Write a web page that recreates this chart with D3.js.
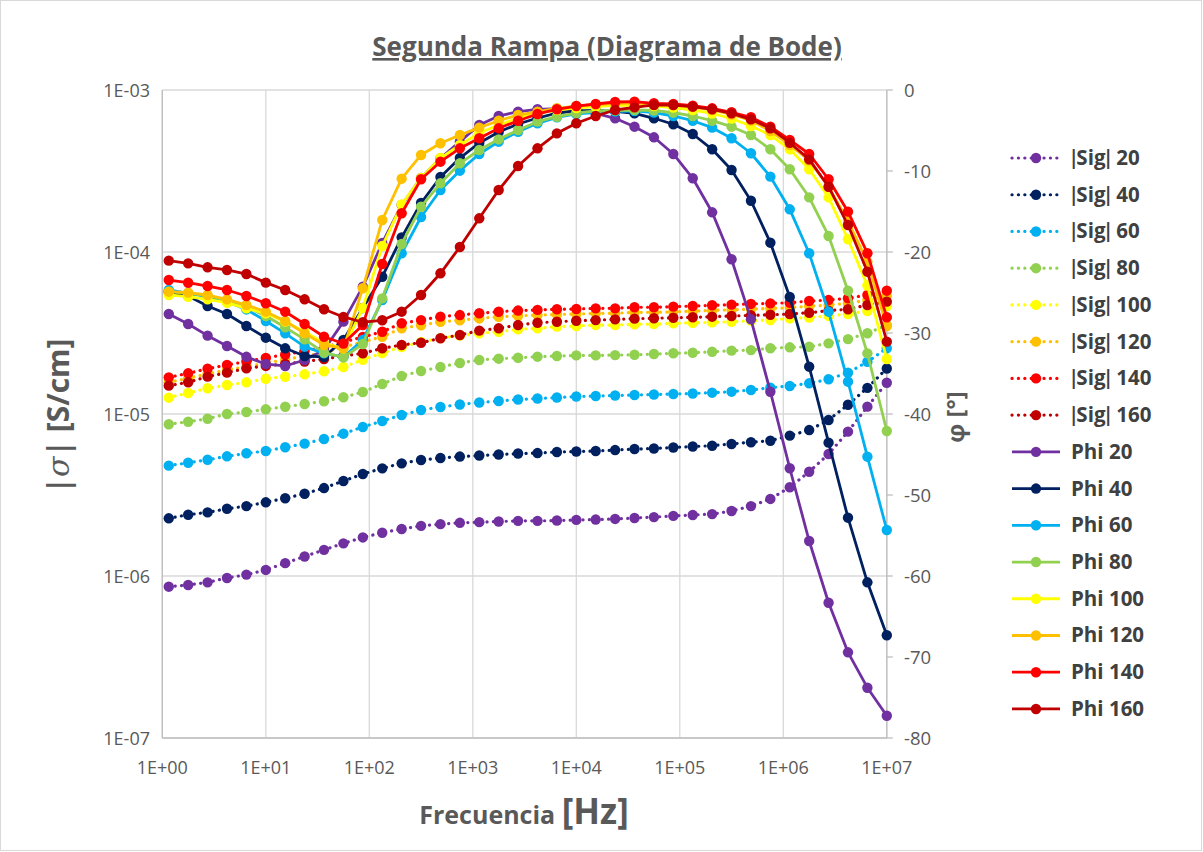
<!DOCTYPE html>
<html><head><meta charset="utf-8">
<script src="https://cdn.jsdelivr.net/npm/d3@7"></script>
<style>body{margin:0;background:#fff}svg{display:block}</style>
</head><body>
<svg id="c" width="1203" height="852"></svg>
<script>
const freq = [1.155, 1.778, 2.738, 4.217, 6.494, 10, 15.40, 23.71, 36.52, 56.23, 86.60, 133.4, 205.4, 316.2, 487.0, 749.9, 1155, 1778, 2738, 4217, 6494, 10000, 15399, 23714, 36517, 56234, 86596, 133352, 205353, 316228, 486968, 749894, 1154782, 1778279, 2738420, 4216965, 6493816, 10000000];

const sig20 = [8.59e-7,8.80e-7,9.14e-7,9.72e-7,1.02e-6,1.09e-6,1.20e-6,1.32e-6,1.45e-6,1.59e-6,1.73e-6,1.85e-6,1.95e-6,2.04e-6,2.09e-6,2.13e-6,2.15e-6,2.17e-6,2.19e-6,2.19e-6,2.20e-6,2.22e-6,2.23e-6,2.25e-6,2.28e-6,2.31e-6,2.35e-6,2.38e-6,2.41e-6,2.52e-6,2.70e-6,2.99e-6,3.53e-6,4.40e-6,5.66e-6,7.78e-6,1.11e-5,1.56e-5];
const sig40 = [2.27e-6,2.39e-6,2.47e-6,2.60e-6,2.70e-6,2.85e-6,3.02e-6,3.22e-6,3.49e-6,3.86e-6,4.26e-6,4.62e-6,4.96e-6,5.20e-6,5.35e-6,5.46e-6,5.54e-6,5.62e-6,5.70e-6,5.74e-6,5.83e-6,5.87e-6,5.91e-6,5.99e-6,6.08e-6,6.12e-6,6.21e-6,6.30e-6,6.37e-6,6.53e-6,6.69e-6,6.84e-6,7.35e-6,7.96e-6,9.18e-6,1.14e-5,1.45e-5,1.91e-5];
const sig60 = [4.80e-6,5.00e-6,5.22e-6,5.48e-6,5.72e-6,5.91e-6,6.23e-6,6.56e-6,7.01e-6,7.56e-6,8.31e-6,9.05e-6,9.86e-6,1.058e-5,1.105e-5,1.145e-5,1.178e-5,1.203e-5,1.229e-5,1.246e-5,1.264e-5,1.282e-5,1.291e-5,1.301e-5,1.310e-5,1.319e-5,1.329e-5,1.338e-5,1.354e-5,1.373e-5,1.406e-5,1.453e-5,1.489e-5,1.547e-5,1.638e-5,1.798e-5,2.10e-5,2.545e-5];
const sig80 = [8.64e-6,8.96e-6,9.35e-6,1.0e-5,1.029e-5,1.069e-5,1.109e-5,1.153e-5,1.198e-5,1.268e-5,1.367e-5,1.531e-5,1.716e-5,1.843e-5,1.950e-5,2.064e-5,2.154e-5,2.195e-5,2.226e-5,2.258e-5,2.28e-5,2.30e-5,2.30e-5,2.31e-5,2.32e-5,2.345e-5,2.37e-5,2.39e-5,2.42e-5,2.46e-5,2.48e-5,2.545e-5,2.58e-5,2.60e-5,2.73e-5,2.90e-5,3.15e-5,3.54e-5];
const sig100 = [1.261e-5,1.348e-5,1.441e-5,1.510e-5,1.569e-5,1.651e-5,1.699e-5,1.758e-5,1.835e-5,1.950e-5,2.163e-5,2.38e-5,2.59e-5,2.78e-5,2.94e-5,3.05e-5,3.15e-5,3.22e-5,3.33e-5,3.38e-5,3.46e-5,3.49e-5,3.54e-5,3.54e-5,3.58e-5,3.59e-5,3.63e-5,3.66e-5,3.68e-5,3.71e-5,3.77e-5,3.80e-5,3.89e-5,3.94e-5,4.03e-5,4.14e-5,4.32e-5,4.64e-5];
const sig120 = [1.57e-5,1.66e-5,1.77e-5,1.87e-5,1.96e-5,2.06e-5,2.17e-5,2.28e-5,2.39e-5,2.59e-5,2.78e-5,3.00e-5,3.38e-5,3.53e-5,3.71e-5,3.79e-5,3.89e-5,3.98e-5,4.04e-5,4.08e-5,4.12e-5,4.14e-5,4.18e-5,4.18e-5,4.24e-5,4.24e-5,4.27e-5,4.32e-5,4.36e-5,4.40e-5,4.44e-5,4.49e-5,4.52e-5,4.63e-5,4.70e-5,4.82e-5,5.05e-5,5.36e-5];
const sig140 = [1.684e-5,1.783e-5,1.904e-5,2.007e-5,2.11e-5,2.217e-5,2.33e-5,2.449e-5,2.573e-5,2.78e-5,2.987e-5,3.22e-5,3.63e-5,3.80e-5,3.99e-5,4.08e-5,4.19e-5,4.28e-5,4.35e-5,4.39e-5,4.43e-5,4.45e-5,4.49e-5,4.49e-5,4.56e-5,4.56e-5,4.60e-5,4.64e-5,4.69e-5,4.73e-5,4.78e-5,4.82e-5,4.86e-5,4.98e-5,5.05e-5,5.18e-5,5.43e-5,5.77e-5];
const sig160 = [1.496e-5,1.57e-5,1.70e-5,1.80e-5,1.914e-5,1.98e-5,2.036e-5,2.11e-5,2.185e-5,2.28e-5,2.37e-5,2.545e-5,2.667e-5,2.754e-5,2.933e-5,3.075e-5,3.27e-5,3.38e-5,3.54e-5,3.66e-5,3.71e-5,3.765e-5,3.80e-5,3.84e-5,3.877e-5,3.90e-5,3.93e-5,3.953e-5,3.988e-5,4.027e-5,4.066e-5,4.10e-5,4.14e-5,4.218e-5,4.345e-5,4.43e-5,4.71e-5,4.936e-5];

const phi20 = [-27.65,-28.89,-30.33,-31.60,-32.94,-33.83,-34.07,-33.33,-32.10,-28.60,-24.28,-18.89,-14.20,-10.86,-8.43,-6.38,-4.32,-3.21,-2.68,-2.38,-2.30,-2.47,-2.88,-3.49,-4.53,-5.84,-7.90,-10.90,-15.10,-20.90,-28.31,-37.25,-46.70,-55.68,-63.30,-69.42,-73.79,-77.25];
const phi40 = [-24.94,-25.43,-26.67,-27.65,-29.14,-30.58,-31.89,-32.84,-32.96,-30.86,-26.91,-23.05,-18.19,-13.95,-10.74,-8.40,-6.54,-5.19,-4.20,-3.46,-2.84,-2.59,-2.53,-2.65,-2.88,-3.49,-4.23,-5.43,-7.32,-9.88,-13.67,-18.85,-25.56,-34.16,-43.54,-52.80,-60.78,-67.32];
const phi60 = [-24.69,-25.10,-25.52,-26.14,-27.09,-28.52,-30.04,-31.69,-32.51,-32.96,-30.86,-25.93,-20.16,-15.68,-12.35,-9.96,-7.90,-6.38,-5.15,-4.11,-3.37,-2.96,-2.78,-2.65,-2.59,-2.78,-3.21,-3.79,-4.65,-5.96,-7.81,-10.70,-14.73,-20.16,-27.37,-36.01,-45.27,-54.32];
const phi80 = [-24.90,-25.10,-25.43,-25.93,-26.75,-27.90,-29.30,-30.78,-32.43,-33.00,-31.36,-25.72,-19.01,-14.41,-11.52,-9.05,-7.41,-6.09,-4.94,-3.91,-3.30,-2.84,-2.59,-2.53,-2.47,-2.53,-2.80,-3.21,-3.79,-4.53,-5.56,-7.32,-9.79,-13.25,-18.02,-24.78,-32.51,-42.10];
const phi100 = [-25.31,-25.52,-25.84,-26.26,-26.95,-27.57,-28.60,-29.84,-31.27,-31.89,-26.91,-19.26,-14.14,-10.86,-8.40,-6.79,-5.31,-4.32,-3.46,-2.84,-2.47,-2.22,-2.04,-1.91,-1.91,-1.98,-2.16,-2.47,-2.90,-3.52,-4.44,-5.56,-7.32,-9.79,-13.25,-18.43,-24.14,-33.21];
const phi120 = [-24.90,-25.02,-25.31,-25.84,-26.54,-27.37,-28.52,-30.04,-31.48,-31.89,-24.48,-16.05,-10.95,-8.02,-6.58,-5.56,-4.65,-3.79,-3.09,-2.68,-2.26,-1.98,-1.79,-1.67,-1.60,-1.73,-1.85,-2.10,-2.47,-3.02,-3.77,-5.06,-6.79,-8.70,-11.98,-16.17,-21.23,-29.14];
const phi140 = [-23.46,-23.79,-24.20,-24.69,-25.43,-26.33,-27.37,-28.89,-30.46,-31.30,-29.01,-21.48,-15.22,-11.02,-8.85,-7.20,-5.96,-4.73,-3.79,-2.96,-2.38,-1.98,-1.73,-1.48,-1.44,-1.64,-1.73,-1.94,-2.26,-2.75,-3.37,-4.53,-6.17,-7.90,-11.02,-15.02,-20.15,-28.06];
const phi160 = [-21.07,-21.40,-21.89,-22.22,-22.72,-23.78,-24.69,-25.84,-27.07,-28.02,-28.67,-28.43,-27.37,-25.31,-22.63,-19.38,-15.84,-12.35,-9.38,-7.20,-5.35,-4.11,-3.21,-2.47,-2.14,-1.85,-1.85,-2.06,-2.38,-2.88,-3.62,-4.73,-6.51,-8.56,-11.94,-16.67,-22.43,-31.07];

const sigNames = ["|Sig| 20","|Sig| 40","|Sig| 60","|Sig| 80","|Sig| 100","|Sig| 120","|Sig| 140","|Sig| 160"];
const phiNames = ["Phi 20","Phi 40","Phi 60","Phi 80","Phi 100","Phi 120","Phi 140","Phi 160"];
const colors = ["#7030A0","#002060","#00B0F0","#92D050","#FFFF00","#FFC000","#FF0000","#C00000"];
const sigSeries = [sig20,sig40,sig60,sig80,sig100,sig120,sig140,sig160];
const phiSeries = [phi20,phi40,phi60,phi80,phi100,phi120,phi140,phi160];

const xTickVals = [1,1e1,1e2,1e3,1e4,1e5,1e6,1e7];
const xTickLabels = ["1E+00","1E+01","1E+02","1E+03","1E+04","1E+05","1E+06","1E+07"];
const yLTickVals = [1e-7,1e-6,1e-5,1e-4,1e-3];
const yLTickLabels = ["1E-07","1E-06","1E-05","1E-04","1E-03"];
const yRTickVals = [-80,-70,-60,-50,-40,-30,-20,-10,0];

const FONT = "'Open Sans', 'Noto Sans', sans-serif";
const GREY = "#595959";
const svg = d3.select("#c");
const L = 162.3, R = 886.8, T = 90, B = 738;

const x = d3.scaleLog().domain([1,1e7]).range([L,R]);
const yL = d3.scaleLog().domain([1e-7,1e-3]).range([B,T]);
const yR = d3.scaleLinear().domain([-80,0]).range([B,T]);

svg.append("rect").attr("x",0.5).attr("y",0.5).attr("width",1201).attr("height",850)
  .attr("fill","#fff").attr("stroke","#d9d9d9");

const g = svg.append("g");
g.selectAll(".vg").data(xTickVals).join("line")
  .attr("x1",d=>x(d)).attr("x2",d=>x(d)).attr("y1",T).attr("y2",B)
  .attr("stroke","#d9d9d9").attr("stroke-width",1.3);
g.selectAll(".hg").data(yLTickVals).join("line")
  .attr("x1",L).attr("x2",R).attr("y1",d=>yL(d)).attr("y2",d=>yL(d))
  .attr("stroke","#d9d9d9").attr("stroke-width",1.3);
g.append("line").attr("x1",L).attr("x2",L).attr("y1",T).attr("y2",B).attr("stroke","#bfbfbf").attr("stroke-width",1.3);
g.append("line").attr("x1",L).attr("x2",R).attr("y1",B).attr("y2",B).attr("stroke","#bfbfbf").attr("stroke-width",1.3);
g.append("line").attr("x1",R).attr("x2",R).attr("y1",T).attr("y2",B).attr("stroke","#bfbfbf").attr("stroke-width",1.3);
g.selectAll(".rt").data(yRTickVals).join("line")
  .attr("x1",R).attr("x2",R+6).attr("y1",d=>yR(d)).attr("y2",d=>yR(d))
  .attr("stroke","#bfbfbf").attr("stroke-width",1.3);

svg.selectAll(".xl").data(xTickVals).join("text")
  .attr("x",d=>x(d)).attr("y",774).attr("text-anchor","middle")
  .attr("font-family",FONT).attr("font-size",18).attr("fill",GREY)
  .text((d,i)=>xTickLabels[i]);
svg.selectAll(".yll").data(yLTickVals).join("text")
  .attr("x",150).attr("y",d=>yL(d)+6.5).attr("text-anchor","end")
  .attr("font-family",FONT).attr("font-size",18).attr("fill",GREY)
  .text((d,i)=>yLTickLabels[i]);
svg.selectAll(".yrl").data(yRTickVals).join("text")
  .attr("x",904).attr("y",d=>yR(d)+6.5).attr("text-anchor","start")
  .attr("font-family",FONT).attr("font-size",18.5).attr("fill",GREY)
  .text(d=>d);

svg.append("text").attr("x",607).attr("y",56).attr("text-anchor","middle")
  .attr("font-family",FONT).attr("font-size",26).attr("font-weight","bold").attr("fill",GREY)
  .attr("text-decoration","underline").text("Segunda Rampa (Diagrama de Bode)");
const yt = svg.append("text").attr("transform","translate(69,416) rotate(-90)").attr("text-anchor","middle")
  .attr("font-family",FONT).attr("font-size",30).attr("font-weight","bold").attr("fill",GREY);
yt.append("tspan").text("|");
yt.append("tspan").attr("font-style","italic").attr("font-weight","normal").attr("font-family","'DejaVu Serif', serif").text("σ");
yt.append("tspan").text("| [S/cm]");
svg.append("text").attr("transform","translate(964,417) rotate(-90)").attr("text-anchor","middle")
  .attr("font-family",FONT).attr("font-size",24).attr("font-weight","bold").attr("fill",GREY)
  .text("φ [°]");
const xt = svg.append("text").attr("x",524).attr("y",824).attr("text-anchor","middle")
  .attr("font-family",FONT).attr("font-weight","bold").attr("fill",GREY);
xt.append("tspan").attr("font-size",25).text("Frecuencia ");
xt.append("tspan").attr("font-size",35).text("[Hz]");

const plot = svg.append("g");
const lineSig = d3.line().x((d,i)=>x(freq[i])).y(d=>yL(d));
const linePhi = d3.line().x((d,i)=>x(freq[i])).y(d=>yR(d));

sigSeries.forEach((s,si)=>{
  plot.append("path").datum(s).attr("d",lineSig).attr("fill","none")
    .attr("stroke",colors[si]).attr("stroke-width",3.2).attr("stroke-linecap","round")
    .attr("stroke-dasharray","0.1 6.3");
  plot.append("g").selectAll("circle").data(s).join("circle")
    .attr("cx",(d,i)=>x(freq[i])).attr("cy",d=>yL(d)).attr("r",5.2).attr("fill",colors[si]);
});
phiSeries.forEach((s,si)=>{
  plot.append("path").datum(s).attr("d",linePhi).attr("fill","none")
    .attr("stroke",colors[si]).attr("stroke-width",2.8).attr("stroke-linejoin","round");
  plot.append("g").selectAll("circle").data(s).join("circle")
    .attr("cx",(d,i)=>x(freq[i])).attr("cy",d=>yR(d)).attr("r",5.2).attr("fill",colors[si]);
});

const legNames = sigNames.concat(phiNames);
const leg = svg.append("g");
legNames.forEach((n,i)=>{
  const yy = 158 + i*36.73;
  const c = colors[i%8];
  const dotted = i<8;
  leg.append("line").attr("x1",1012).attr("x2",1060).attr("y1",yy).attr("y2",yy)
    .attr("stroke",c).attr("stroke-width",dotted?3.2:2.8)
    .attr("stroke-linecap",dotted?"round":"butt")
    .attr("stroke-dasharray",dotted?"0.1 6.3":null);
  leg.append("circle").attr("cx",1036).attr("cy",yy).attr("r",5.2).attr("fill",c);
  const t = leg.append("text").attr("x",1071).attr("y",yy+7).attr("font-family",FONT)
    .attr("font-size",20.5).attr("font-weight","bold").attr("fill","#404040");
  n.split(/(\|)/).filter(p=>p.length).forEach(p=>{
    const sp = t.append("tspan").text(p);
    if (p === "|") sp.attr("font-family","Lato, sans-serif");
  });
});
</script>
</body></html>
